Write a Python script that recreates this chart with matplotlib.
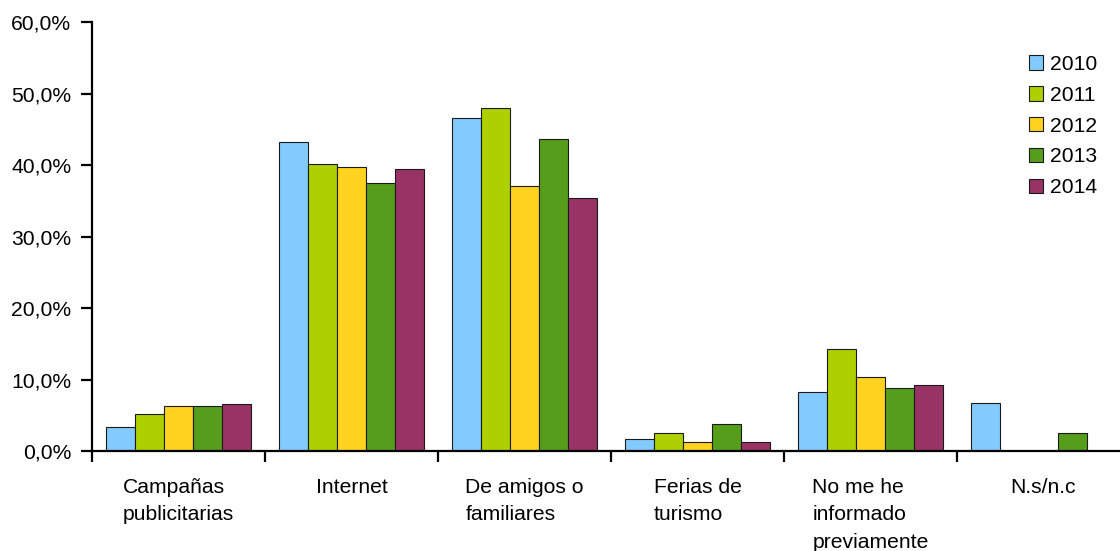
import matplotlib
matplotlib.use("Agg")
import numpy as np
from matplotlib import pyplot as plt
from matplotlib.ticker import FuncFormatter

plt.rcParams['font.family'] = ['Liberation Sans', 'DejaVu Sans']

categories = ["Campañas\npublicitarias", "Internet", "De amigos o\nfamiliares",
              "Ferias de\nturismo", "No me he\ninformado\npreviamente", "N.s/n.c"]
years = ["2010", "2011", "2012", "2013", "2014"]

v2010 = [3.4, 43.2, 46.6, 1.7, 8.3, 6.7]
v2011 = [5.2, 40.2, 48.0, 2.6, 14.3, 0.0]
v2012 = [6.4, 39.7, 37.1, 1.3, 10.4, 0.0]
v2013 = [6.3, 37.5, 43.7, 3.8, 8.8, 2.5]
v2014 = [6.6, 39.5, 35.4, 1.3, 9.2, 0.0]
series = [v2010, v2011, v2012, v2013, v2014]

colors = ["#83CAFF", "#AECF00", "#FFD320", "#579D1C", "#993366"]
fs = 15.2

fig = plt.figure(figsize=(11.2, 5.51), dpi=100)
ax = fig.add_axes([92 / 1120, 1 - 451.3 / 551, 1038 / 1120, 429.3 / 551])

x = np.arange(len(categories))
w = 1 / 6
for i, (vals, c, yr) in enumerate(zip(series, colors, years)):
    ax.bar(x + (i - 2) * w, vals, width=w, color=c, edgecolor="#1a1a1a",
           linewidth=0.8, label=yr, zorder=2)

ax.set_xlim(-0.5, len(categories) - 0.5)
ax.set_ylim(0, 60)
ax.set_yticks(np.arange(0, 61, 10))
ax.yaxis.set_major_formatter(FuncFormatter(lambda v, p: f"{v:.1f}%".replace(".", ",")))

# category boundaries as major ticks, names on minor ticks
ax.set_xticks(np.arange(len(categories) + 1) - 0.5)
ax.set_xticklabels([])
ax.set_xticks(x, minor=True)
ax.set_xticklabels(categories, minor=True, linespacing=1.58, multialignment="left")
ax.tick_params(axis="x", which="minor", length=0, pad=19, labelsize=fs)
ax.tick_params(axis="x", which="major", direction="out", length=8, width=1.6)
ax.tick_params(axis="y", direction="out", length=8, width=1.6, pad=7, labelsize=fs)

for s in ["top", "right"]:
    ax.spines[s].set_visible(False)
for s in ["left", "bottom"]:
    ax.spines[s].set_linewidth(1.6)

fig.legend(loc="upper left", bbox_to_anchor=(1029 / 1120, 1 - 55 / 551),
           frameon=False, fontsize=fs, handlelength=0.68, handleheight=0.68,
           handletextpad=0.3, labelspacing=0.56, borderpad=0, borderaxespad=0)

fig.savefig("out.png", dpi=100)
